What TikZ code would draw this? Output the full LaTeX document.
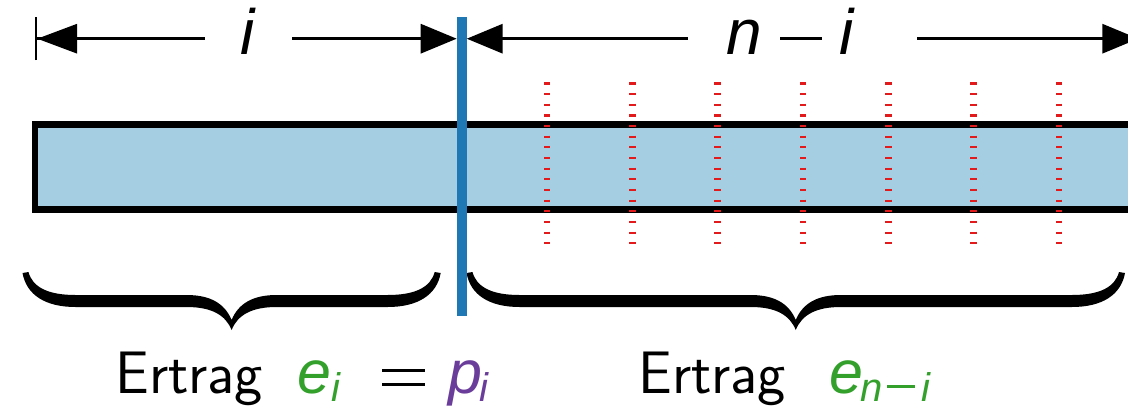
\documentclass[tikz,border=0pt]{standalone}
\usepackage{fontspec}
\newfontfamily\topfont{Liberation Sans}
\usetikzlibrary{arrows.meta}
\definecolor{cfill}{HTML}{A6CEE3}
\definecolor{cblue}{HTML}{1F78B4}
\definecolor{cred}{HTML}{E31A1C}
\definecolor{cgreen}{HTML}{33A02C}
\definecolor{cpurple}{HTML}{6A3D9A}
\newcommand\mv[1]{{\fontsize{30.5}{34}\selectfont\topfont\itshape #1}}
\newcommand\mvt[1]{{\fontsize{32}{36}\selectfont\topfont\itshape #1}}
\newcommand\ms[1]{\raisebox{-4pt}{\fontsize{20}{24}\selectfont\topfont\itshape #1}}
\newcommand\myeq{\rule[4pt]{21.5pt}{1.5pt}\llap{\rule[11pt]{21.5pt}{1.5pt}}}
\newcommand\mytopminus{\rule[7.25pt]{21pt}{1.5pt}}
\newcommand\mysubminus{\rule[2.8pt]{14pt}{1.25pt}}
\newcommand\bx[2]{\makebox[#1][l]{#2}}
\begin{document}
\begin{tikzpicture}[x=0.5pt,y=-0.5pt,
  barbox/.style={draw=black,line width=3.25pt,fill=cfill},
  divider/.style={draw=cblue,line width=5pt},
  reddots/.style={draw=cred,line width=3.3pt,dash pattern=on 1.1pt off 4.233pt},
  dimline/.style={draw=black,line width=1.6pt},
  bracefill/.style={fill=black},
  lbl/.style={inner sep=0pt,anchor=base west,font=\fontsize{30}{34}\selectfont\sffamily}
]
\path[use as bounding box, clip] (0,0) rectangle (1128,407);
% bar
\path[barbox] (35,124.5) rectangle (1142,209.5);
% red dotted markers
\foreach \xx in {547,632.3,717.7,803,888.3,973.7,1059}
  \draw[reddots] (\xx,82.3) -- (\xx,244);
% braces (calligraphic, drawn as filled shapes)
\foreach \a/\b in {25.5/437.7, 469.5/1122}{
  \pgfmathsetmacro\c{(\a+\b)/2}
  \fill[bracefill]
    ({\a+3},272) .. controls ({\a+7},287) and ({\a+22},295) .. ({\a+50},295)
    -- ({\c-45},295) .. controls ({\c-22},295) and ({\c-7},303) .. (\c,320)
    .. controls ({\c+7},303) and ({\c+22},295) .. ({\c+45},295)
    -- ({\b-50},295) .. controls ({\b-22},295) and ({\b-7},287) .. ({\b-3},272)
    -- ({\b+3},273) .. controls ({\b-1},295) and ({\b-20},307) .. ({\b-50},307)
    -- ({\c+45},307) .. controls ({\c+20},307) and ({\c+6},315) .. (\c,330)
    .. controls ({\c-6},315) and ({\c-20},307) .. ({\c-45},307)
    -- ({\a+50},307) .. controls ({\a+20},307) and ({\a+1},295) .. ({\a-3},273)
    -- cycle;
}
% divider
\coordinate (bt) at (461.7,17);
\coordinate (bb) at (461.7,315.7);
\draw[divider] (bt) -- (bb);
% dimension arrows
\coordinate (L0) at (34.5,38.7);
\coordinate (L1) at (205,38.7);
\coordinate (L2) at (292,38.7);
\coordinate (L3) at (456.7,38.7);
\coordinate (R0) at (466.7,38.7);
\coordinate (R1) at (688,38.7);
\coordinate (R2) at (917,38.7);
\coordinate (R3) at (1141,38.7);
\draw[dimline, {Bar[width=21.5pt,line width=1.35pt,sep=0pt]Triangle[length=20pt,width=14.5pt]}-] (L0) -- (L1);
\draw[dimline, -{Triangle[length=18pt,width=14.5pt]}] (L2) -- (L3);
\draw[dimline, {Triangle[length=18pt,width=14.5pt]}-] (R0) -- (R1);
\draw[dimline, -{Triangle[length=18pt,width=14.5pt]Bar[width=21.5pt,line width=1.35pt,sep=0pt]}] (R2) -- (R3);
\node[lbl] (li) at (240,54.3) {\mvt{i}};
\node[lbl] (lni) at (726,54.3) {\bx{27pt}{\mvt{n}}\bx{29.5pt}{\mytopminus}\mvt{i}};
% bottom labels
\node[lbl] (t1) at (115,393.5) {\bx{91.25pt}{Ertrag}\textcolor{cgreen}{\bx{16.75pt}{\mv{e}}\bx{25.5pt}{\ms{i}}}\bx{33pt}{\myeq}\textcolor{cpurple}{\bx{15.5pt}{\mv{p}}\ms{i}}};
\node[lbl] (t2) at (638,393.5) {\bx{95.5pt}{Ertrag}\textcolor{cgreen}{\bx{15.5pt}{\mv{e}}\bx{13.5pt}{\ms{n}}\bx{17pt}{\mysubminus}\ms{i}}};
\end{tikzpicture}
\end{document}
